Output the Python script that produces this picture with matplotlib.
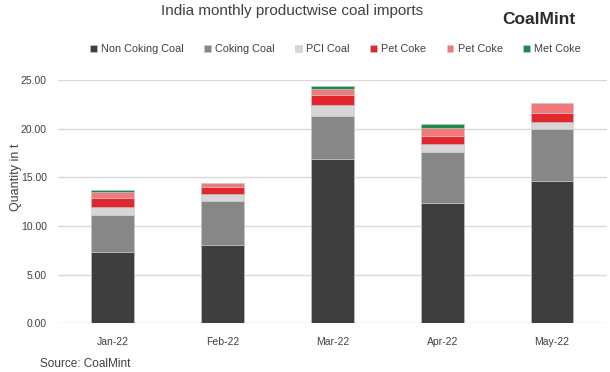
import matplotlib.pyplot as plt
import numpy as np

plt.rcParams['font.family'] = ['Liberation Sans', 'DejaVu Sans']

months = ['Jan-22', 'Feb-22', 'Mar-22', 'Apr-22', 'May-22']
non_coking = [7.36, 8.05, 16.89, 12.33, 14.63]
coking = [3.77, 4.52, 4.42, 5.24, 5.34]
pci = [0.80, 0.75, 1.15, 0.85, 0.75]
pet_coke = [0.92, 0.72, 0.95, 0.87, 0.86]
pet_coke2 = [0.68, 0.35, 0.62, 0.82, 1.02]
met_coke = [0.17, 0.04, 0.31, 0.38, 0.05]

series = [
    ('Non Coking Coal', non_coking, '#3f3e3e'),
    ('Coking Coal', coking, '#878787'),
    ('PCI Coal', pci, '#d6d6d6'),
    ('Pet Coke', pet_coke, '#e0272e'),
    ('Pet Coke', pet_coke2, '#f2797b'),
    ('Met Coke', met_coke, '#1c8a4c'),
]

fig = plt.figure(figsize=(6.1, 3.72), dpi=100)
ax = fig.add_axes([0.095, 0.131, 0.9, 0.654])

x = np.arange(len(months))
bottom = np.zeros(len(months))
handles = []
for name, vals, col in series:
    b = ax.bar(x, vals, 0.39, bottom=bottom, color=col, label=name,
               edgecolor='#c8c8c8', linewidth=0.4, zorder=3)
    handles.append(b)
    bottom += np.array(vals)

ax.set_xlim(-0.5, 4.5)
ax.set_ylim(0, 25)
ax.set_yticks(np.arange(0, 26, 5))
ax.set_yticklabels(['%.2f' % v for v in np.arange(0, 26, 5)])
ax.set_xticks(x)
ax.set_xticklabels(months)
ax.yaxis.grid(True, color='#d9d9d9', linewidth=1, zorder=0)
ax.tick_params(length=0, labelsize=7.5, colors='#404040')
ax.tick_params(axis='x', pad=10)
ax.tick_params(axis='y', pad=8)
for s in ax.spines.values():
    s.set_visible(False)
ax.set_ylabel('Quantity in t', fontsize=9, color='#404040')
ax.yaxis.set_label_coords(-0.065, 0.6)

fig.text(0.478, 0.97, 'India monthly productwise coal imports',
         ha='center', va='center', fontsize=11, color='#404040')
fig.text(0.884, 0.947, 'CoalMint', ha='center', va='center', fontsize=12.5,
         fontweight='bold', color='#2b2b2b')
fig.legend(handles=handles, loc='center', bbox_to_anchor=(0.55, 0.867),
           ncol=6, frameon=False, fontsize=7.8, handlelength=0.6,
           handleheight=0.6, handletextpad=0.4, columnspacing=1.9,
           labelcolor='#404040')
fig.text(0.065, 0.006, 'Source: CoalMint', fontsize=8.5, color='#404040',
         va='bottom')

fig.savefig('out.png', dpi=100)
